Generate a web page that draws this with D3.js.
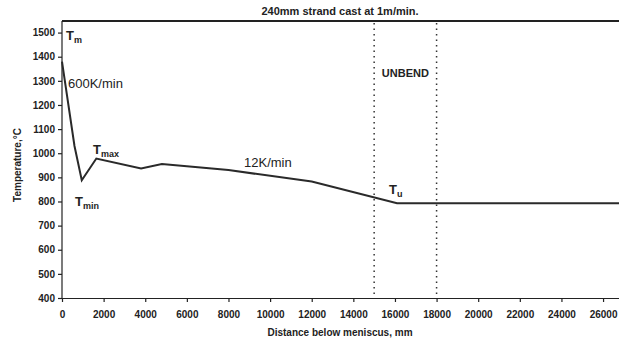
<!DOCTYPE html>
<html>
<head>
<meta charset="utf-8">
<script src="https://cdn.jsdelivr.net/npm/d3@7"></script>
<style>
  body { margin: 0; background: #fff; }
  svg text { font-family: "Liberation Sans", Arial, sans-serif; fill: #222; }
  .axis text { font-size: 10px; font-weight: bold; }
  .axis path, .axis line { stroke: #222; stroke-width: 1.2px; }
</style>
</head>
<body>
<script>
// temperature profile along the strand
var distance = [0, 600, 950, 1650, 3800, 4800, 8000, 12000, 16100, 27000];
var temperature = [1380, 1030, 888, 978, 937, 955, 930, 883, 793, 793];
var xTicks = [0, 2000, 4000, 6000, 8000, 10000, 12000, 14000, 16000, 18000, 20000, 22000, 24000, 26000];
var yTicks = [400, 500, 600, 700, 800, 900, 1000, 1100, 1200, 1300, 1400, 1500];
var unbendZone = [15000, 18000];

var W = 619, H = 340;
var margin = {top: 21, right: 0, bottom: 42, left: 62};

var svg = d3.select("body").append("svg")
    .attr("width", W)
    .attr("height", H);

var x = d3.scaleLinear()
    .domain([0, 27000])
    .range([margin.left, margin.left + 27000 * 0.02081]);
var y = d3.scaleLinear()
    .domain([400, 1548])
    .range([H - margin.bottom, margin.top]);

// top frame line
svg.append("line")
    .attr("x1", x(0)).attr("x2", W)
    .attr("y1", y(1548)).attr("y2", y(1548))
    .style("stroke", "#222").style("stroke-width", 2);

// axes
svg.append("g")
    .attr("class", "axis")
    .attr("transform", "translate(0," + y(400) + ")")
    .call(d3.axisBottom(x).tickValues(xTicks).tickSize(4).tickSizeOuter(0).tickFormat(d3.format("d")))
    .call(function(g) { g.selectAll("text").attr("dy", "1.3em"); });

svg.append("g")
    .attr("class", "axis")
    .attr("transform", "translate(" + x(0) + ",0)")
    .call(d3.axisLeft(y).tickValues(yTicks).tickSize(4).tickSizeOuter(0).tickFormat(d3.format("d")))
    .call(function(g) { g.select(".domain").attr("d", "M0," + y(400) + "V" + y(1548)); });

// unbend zone boundaries
svg.selectAll("line.unbend")
    .data(unbendZone)
  .enter().append("line")
    .attr("class", "unbend")
    .attr("x1", function(d) { return x(d); })
    .attr("x2", function(d) { return x(d); })
    .attr("y1", y(1548) + 2)
    .attr("y2", y(400))
    .style("stroke", "#333")
    .style("stroke-width", 1.5)
    .style("stroke-dasharray", "1.5,4");

// the profile
var pts = distance.map(function(d, i) { return [d, temperature[i]]; });
svg.append("path")
    .datum(pts)
    .attr("d", d3.line()
        .x(function(d) { return x(d[0]); })
        .y(function(d) { return y(d[1]); }))
    .style("fill", "none")
    .style("stroke", "#2a2a2a")
    .style("stroke-width", 2);

// titles
svg.append("text")
    .attr("x", 340).attr("y", 15)
    .attr("text-anchor", "middle")
    .style("font-size", "11px").style("font-weight", "bold")
    .text("240mm strand cast at 1m/min.");

svg.append("text")
    .attr("x", 340).attr("y", 336)
    .attr("text-anchor", "middle")
    .style("font-size", "10px").style("font-weight", "bold")
    .text("Distance below meniscus, mm");

svg.append("text")
    .attr("transform", "translate(21,165) rotate(-90)")
    .attr("text-anchor", "middle")
    .style("font-size", "10px").style("font-weight", "bold")
    .text("Temperature,°C");

// annotations
function subLabel(px, py, main, sub) {
  var t = svg.append("text")
      .attr("x", px).attr("y", py)
      .style("font-size", "13px").style("font-weight", "bold");
  t.append("tspan").text(main);
  t.append("tspan").attr("dy", 3).style("font-size", "9px").text(sub);
}
subLabel(66, 40, "T", "m");
subLabel(93, 154, "T", "max");
subLabel(75, 206, "T", "min");
subLabel(389, 194, "T", "u");

svg.append("text")
    .attr("x", 68).attr("y", 88)
    .style("font-size", "13px")
    .text("600K/min");

svg.append("text")
    .attr("x", 244).attr("y", 167)
    .style("font-size", "13px")
    .text("12K/min");

svg.append("text")
    .attr("x", x(16500)).attr("y", 77)
    .attr("text-anchor", "middle")
    .style("font-size", "11px").style("font-weight", "bold")
    .text("UNBEND");
</script>
</body>
</html>
